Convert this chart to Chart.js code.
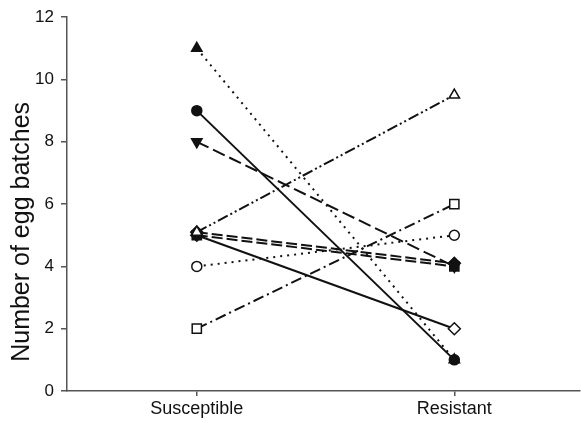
<!DOCTYPE html>
<html>
<head>
<meta charset="utf-8">
<script src="https://cdn.jsdelivr.net/npm/chart.js@4.4.0/dist/chart.umd.min.js"></script>
<style>
html,body{margin:0;padding:0;background:#fff;overflow:hidden;}
#wrap{width:581px;height:423px;position:relative;overflow:hidden;}
</style>
</head>
<body>
<div id="wrap"><canvas id="c" width="588" height="423"></canvas></div>
<script>
const categories = ["Susceptible", "Resistant"];
const yTicks = [0, 2, 4, 6, 8, 10, 12];
const yTitle = "Number of egg batches";
const triUpFilled = [11, 1];
const circleFilled = [9, 1];
const triDownFilled = [8, 4];
const triUpOpen = [5.1, 9.5];
const diamondOpen = [5.0, 2];
const circleOpen = [4, 5];
const squareOpen = [2, 6];
const diamondFilled = [5.1, 4.1];
const squareFilled = [5.0, 4.0];

const INK = '#111';
function pts(vals){ return vals.map((v,i)=>({x:i, y:v})); }
function ds(vals, style, filled, dash, rot, radius){
  return {
    data: pts(vals),
    borderColor: INK,
    borderWidth: 2,
    borderDash: dash,
    pointStyle: style,
    rotation: rot || 0,
    pointRadius: radius,
    pointBorderWidth: 1.5,
    pointBackgroundColor: filled ? INK : '#fff',
    pointBorderColor: INK,
    fill: false,
    tension: 0
  };
}
const dotted = [2, 5];
const dashDot = [11, 4, 2, 4];
const dashDotDot = [11, 3, 2, 3, 2, 3];
const longDash = [13, 5];
const dash = [11, 4];
const FONT = 'Liberation Sans, Arial, sans-serif';

new Chart(document.getElementById('c'), {
  type: 'line',
  data: {
    datasets: [
      ds(squareOpen, 'rect', false, dashDot, 0, 6.5),
      ds(circleOpen, 'circle', false, dotted, 0, 5),
      ds(triUpOpen, 'triangle', false, dashDotDot, 0, 6),
      ds(squareFilled, 'rect', true, dash, 0, 6.5),
      ds(diamondFilled, 'rectRot', true, dash, 0, 6),
      ds(triDownFilled, 'triangle', true, longDash, 180, 6),
      ds(diamondOpen, 'rectRot', false, [], 0, 6),
      ds(triUpFilled, 'triangle', true, dotted, 0, 6),
      ds(circleFilled, 'circle', true, [], 0, 5)
    ]
  },
  options: {
    responsive: false,
    animation: false,
    events: [],
    layout: { padding: { top: 17, right: 0, bottom: 0, left: 0 } },
    plugins: { legend: { display: false }, tooltip: { enabled: false } },
    scales: {
      x: {
        type: 'linear',
        min: -0.504, max: 1.488,
        afterBuildTicks: (s) => { s.ticks = categories.map((c,i)=>({value:i})); },
        afterFit: (s) => { s.height = 32; },
        ticks: {
          callback: (v) => categories[v] ?? '',
          color: '#111',
          font: { family: FONT, size: 18 },
          padding: 2,
          maxRotation: 0
        },
        grid: { drawOnChartArea: false, drawTicks: true, tickLength: 5, color: '#555', lineWidth: 1.5 },
        border: { display: true, color: '#555', width: 1.5 }
      },
      y: {
        min: 0, max: 12,
        afterBuildTicks: (s) => { s.ticks = yTicks.map(v=>({value:v})); },
        afterFit: (s) => { s.width = 67; },
        title: {
          display: true,
          text: yTitle + '        ',
          color: '#111',
          font: { family: FONT, size: 25 },
          padding: { top: 7, bottom: 0 }
        },
        ticks: {
          color: '#111',
          font: { family: FONT, size: 17 },
          padding: 7
        },
        grid: { drawOnChartArea: false, drawTicks: true, tickLength: 6, color: '#555', lineWidth: 1.5 },
        border: { display: true, color: '#555', width: 1.5 }
      }
    }
  }
});
</script>
</body>
</html>
